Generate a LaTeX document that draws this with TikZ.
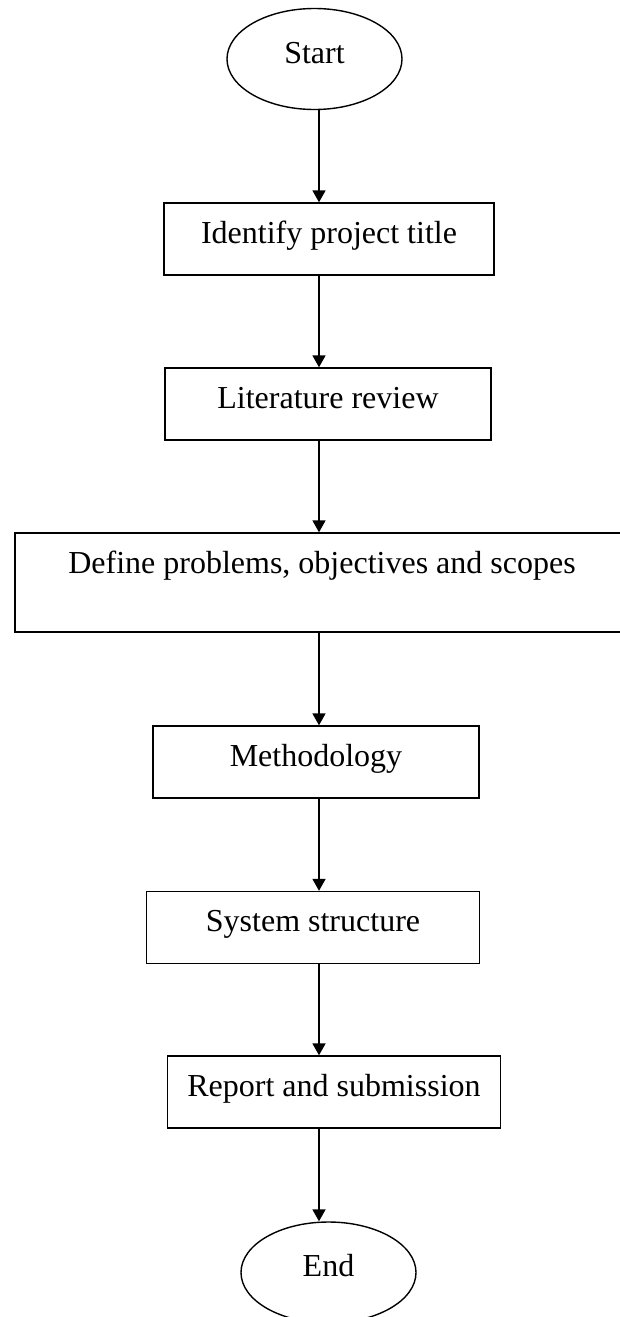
\documentclass[tikz,border=0pt]{standalone}
\usepackage{fontspec}
\setmainfont{Liberation Serif}
\usepackage{tikz}
\usetikzlibrary{arrows.meta, positioning, shapes.geometric, calc}

\begin{document}
\begin{tikzpicture}[
  x=1pt, y=-1pt,
  >={Triangle[length=12pt, width=13pt]},
  terminal/.style={ellipse, draw=black, line width=1.4pt, minimum width=175pt, minimum height=101pt, inner sep=0pt, text height=22pt, text depth=14pt, font=\fontsize{32}{38}\selectfont},
  stepbox/.style={rectangle, draw=black, line width=1.4pt, inner xsep=0pt, inner ysep=0pt, text height=40pt, text depth=32pt, font=\fontsize{32}{38}\selectfont},
  patharrow/.style={->, line width=1.8pt}
]
  \useasboundingbox (0,0) rectangle (619,1317);
  \coordinate (spine) at (319,0);

  % Start and end
  \node[terminal] (start) at (314.5, 59) {Start};
  \node[terminal] (finish) at (328.5, 1272.5) {End};

  % Steps
  \node[stepbox, minimum width=330pt] (title) at (329, 239) {Identify project title};
  \node[stepbox, minimum width=326pt] (review) at (328, 404) {Literature review};
  \node[stepbox, minimum width=614pt, text depth=59pt] (define) at (322, 582.5) {Define problems, objectives and scopes};
  \node[stepbox, minimum width=326pt] (method) at (316, 762) {Methodology};
  \node[stepbox, minimum width=333pt] (structure) at (313, 927.5) {System structure};
  \node[stepbox, minimum width=333pt] (report) at (334, 1092) {Report and submission};

  % Flow arrows
  \draw[patharrow] (start.south -| spine) -- (title.north -| spine);
  \draw[patharrow] (title.south -| spine) -- (review.north -| spine);
  \draw[patharrow] (review.south -| spine) -- (define.north -| spine);
  \draw[patharrow] (define.south -| spine) -- (method.north -| spine);
  \draw[patharrow] (method.south -| spine) -- (structure.north -| spine);
  \draw[patharrow] (structure.south -| spine) -- (report.north -| spine);
  \draw[patharrow] (report.south -| spine) -- (finish.north -| spine);
\end{tikzpicture}
\end{document}
